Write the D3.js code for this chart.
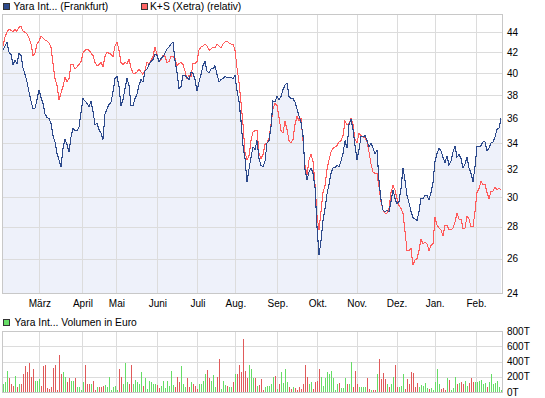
<!DOCTYPE html>
<html><head><meta charset="utf-8">
<script src="https://cdn.jsdelivr.net/npm/d3@7"></script>
<style>body{margin:0;background:#fff} svg{display:block}</style>
</head><body>
<svg id="c" width="545" height="398"></svg>
<script>
// ---- data ----
const yaraPrice = [
42.2,42.6,43.0,42.0,41.8,40.8,41.2,40.9,41.9,41.7,
40.5,39.9,39.2,38.3,37.5,36.8,36.9,37.6,38.5,37.8,
37.3,36.4,36.1,36.0,35.6,34.6,34.1,33.2,32.7,32.2,
33.6,34.3,33.9,33.3,34.5,35.2,35.0,35.0,35.3,36.5,
37.7,37.5,37.3,37.0,37.5,36.6,35.5,35.6,35.1,34.8,
34.3,36.4,36.8,37.2,37.4,38.3,39.5,39.7,38.8,37.1,
37.6,38.6,39.5,38.9,37.1,37.1,37.7,38.1,38.9,39.4,
39.2,40.2,40.4,40.8,41.1,41.3,41.8,41.7,41.1,41.4,
41.6,41.9,42.3,42.5,42.8,43.0,41.2,40.1,38.6,38.8,
39.8,39.8,39.6,39.4,40.1,40.0,39.4,38.4,39.2,39.9,
40.7,41.1,40.2,40.0,40.4,40.4,40.7,39.9,39.2,39.4,
39.5,39.7,39.6,39.6,39.6,39.5,39.8,38.4,37.5,35.8,
33.8,32.8,31.1,32.0,32.9,33.7,33.5,34.2,32.8,32.3,
32.2,32.6,34.0,34.2,35.3,37.5,37.4,37.9,37.6,37.9,
38.5,38.9,39.1,37.9,37.7,37.7,37.4,36.8,36.2,35.7,
34.6,32.0,31.2,31.8,32.1,31.7,30.7,28.0,26.2,27.1,
28.4,29.2,30.2,30.9,31.7,32.1,32.1,32.3,32.2,32.6,
33.2,34.2,33.6,35.5,35.9,35.1,33.8,32.7,33.5,34.5,
34.5,34.6,34.2,33.7,34.0,33.6,33.2,33.4,31.2,29.8,
29.1,29.0,29.1,29.0,29.7,30.5,29.9,29.5,29.7,30.6,
32.1,31.2,30.1,29.6,29.0,28.6,28.5,28.4,29.0,29.9,
29.9,30.1,30.1,29.8,30.3,31.0,32.6,33.2,33.6,33.4,
32.9,32.5,33.0,32.3,32.6,33.3,33.8,32.9,33.1,32.8,
32.1,32.4,32.9,32.1,31.7,31.1,32.2,33.7,33.7,33.8,
34.1,34.1,33.4,33.6,34.0,34.1,34.5,35.1,35.2,36.0
];
const ksRelative = [
42.6,43.5,44.0,44.3,44.2,44.0,44.3,44.1,44.5,44.6,
44.1,44.0,43.8,43.4,42.8,41.7,41.9,42.8,43.1,43.6,
43.4,43.2,43.1,42.9,42.5,40.9,39.5,38.9,37.6,38.2,
38.8,39.6,39.2,39.5,40.8,40.8,40.4,40.6,40.8,41.1,
41.9,42.2,42.3,42.2,41.9,41.7,41.0,40.7,40.8,41.0,
40.6,41.6,42.0,41.9,41.8,41.6,42.6,43.0,42.2,41.0,
40.8,41.0,40.9,41.3,40.5,40.0,40.0,40.1,40.4,40.1,
39.9,40.3,41.0,40.9,41.2,41.6,42.5,41.8,41.1,41.3,
41.7,41.6,41.0,41.1,41.6,41.6,41.4,40.7,40.9,41.0,
40.8,40.2,39.5,39.8,39.7,40.9,40.9,41.1,42.2,42.5,
42.6,42.8,42.6,42.2,42.3,42.5,42.4,42.8,42.6,42.4,
42.8,43.0,43.1,42.9,42.8,42.8,42.2,40.5,39.2,37.4,
35.5,33.3,32.7,33.0,34.2,34.9,35.0,35.0,33.2,32.8,
33.1,33.9,34.0,34.4,35.5,36.8,37.3,37.1,36.1,35.0,
34.8,35.8,35.1,34.2,34.0,34.3,35.5,36.2,35.8,36.0,
34.2,32.3,31.6,32.7,33.1,32.6,30.9,28.7,27.8,29.0,
30.3,30.8,32.0,32.7,33.3,33.6,33.7,33.8,34.1,34.2,
34.6,35.8,35.5,35.6,36.0,35.5,34.3,34.0,34.8,34.6,
34.5,34.4,34.1,33.3,32.4,31.8,31.7,31.7,30.7,29.7,
29.1,28.9,28.9,29.2,30.3,30.8,30.5,29.9,29.4,29.2,
28.9,27.7,26.5,26.5,26.6,25.6,25.9,26.0,26.5,27.2,
26.9,27.0,26.9,26.5,26.8,26.9,28.6,28.1,27.9,27.8,
27.4,28.1,28.1,27.8,27.8,27.9,28.3,28.9,28.5,28.5,
27.9,27.9,28.7,28.5,28.0,28.0,29.0,30.3,30.6,31.1,
30.9,30.9,30.3,29.9,30.4,30.4,30.7,30.5,30.6,30.5
];
// volume in thousand euro
const yaraVolume = [
100,130,270,190,100,80,210,60,100,
100,230,340,260,380,200,300,150,140,170,
80,340,350,50,40,70,310,350,30,490,
230,260,200,130,180,140,150,190,60,60,
30,130,350,110,100,100,140,20,60,70,
70,80,90,60,200,30,70,80,30,300,
200,110,380,130,110,350,100,160,130,110,
260,80,190,40,140,130,110,110,90,50,
80,140,50,150,80,270,90,60,200,130,
340,110,60,190,60,130,110,80,40,110,
110,140,230,290,180,140,220,70,200,
430,40,150,90,80,70,60,130,230,240,
360,260,700,280,190,350,300,190,190,80,
90,170,30,60,80,80,100,200,210,40,
100,260,120,300,130,70,40,60,50,30,
60,40,100,350,200,100,130,40,130,150,
300,200,80,180,260,230,270,190,20,100,
120,50,50,190,100,100,390,60,270,110,
60,60,60,70,180,40,30,20,20,230,
430,170,250,170,100,70,100,200,350,70,
60,80,240,40,170,110,260,250,60,120,
60,90,80,120,50,40,50,30,130,300,
110,40,50,30,190,160,30,50,200,100,
120,130,110,140,80,120,180,130,130,130,
140,160,110,120,70,130,230,100,120,150,
60,30
];
const monthLabels = ["März","April","Mai","Juni","Juli","Aug.","Sep.","Okt.","Nov.","Dez.","Jan.","Feb."];
const monthStarts = [18.2,39.7,56.7,77.2,97.2,116.2,137.2,157.2,176.8,196.8,215.8,236.5];
const priceTicks = [24,26,28,30,32,34,36,38,40,42,44];
const volumeTicks = [0,200,400,600,800];
const volumeTickLabels = ["0T","200T","400T","600T","800T"];
const legendMain = ["Yara Int... (Frankfurt)", "K+S (Xetra) (relativ)"];
const legendVolume = "Yara Int... Volumen in Euro";

// ---- layout ----
const P = {left:3, right:503, top:14, bottom:293};
const V = {top:331, bottom:392};
const BLUE = "#2d4a8c", RED = "#ff5b5b", GREEN = "#66dd66", VRED = "#e05a5a";
const GRID = "#dcdcdc", BORDER = "#c8c8c8", AREA = "#eef1fa";
const FONT = "'Liberation Sans', Arial, sans-serif";

const svg = d3.select("#c");
const x = d3.scaleLinear().domain([0, yaraPrice.length - 1]).range([P.left, P.right - 2]);
const y = d3.scaleLog().domain([24, 45.9]).range([P.bottom, P.top]);
const yv = d3.scaleLinear().domain([0, 800]).range([V.bottom, V.top]);

// area under Yara
svg.append("path")
  .datum(yaraPrice)
  .attr("fill", AREA)
  .attr("d", d3.area().x((d,i)=>x(i)).y0(P.bottom).y1(d=>y(d)));

// grid main
const gMain = svg.append("g").attr("shape-rendering","crispEdges");
gMain.selectAll("line.h").data(priceTicks.slice(1)).join("line")
  .attr("x1", P.left).attr("x2", P.right)
  .attr("y1", d=>Math.round(y(d))+0.5).attr("y2", d=>Math.round(y(d))+0.5)
  .attr("stroke", GRID);
gMain.selectAll("line.v").data(monthStarts).join("line")
  .attr("x1", d=>Math.round(x(d))+0.5).attr("x2", d=>Math.round(x(d))+0.5)
  .attr("y1", P.top).attr("y2", P.bottom)
  .attr("stroke", GRID);
gMain.append("rect").attr("x", P.left-0.5).attr("y", P.top+0.5)
  .attr("width", P.right-P.left).attr("height", P.bottom-P.top)
  .attr("fill","none").attr("stroke", BORDER);

// lines
const line = d3.line().x((d,i)=>x(i)).y(d=>y(d));
svg.append("path").datum(ksRelative).attr("d", line)
  .attr("fill","none").attr("stroke", RED).attr("stroke-width", 1.1)
  .attr("shape-rendering","crispEdges");
svg.append("path").datum(yaraPrice).attr("d", line)
  .attr("fill","none").attr("stroke", BLUE).attr("stroke-width", 1.1)
  .attr("shape-rendering","crispEdges");

// y axis (right)
const ay = svg.append("g").attr("transform", `translate(${P.right},0)`)
  .call(d3.axisRight(y).tickValues(priceTicks).tickFormat(d3.format("d")).tickSize(0).tickPadding(4));
ay.select(".domain").remove();
ay.selectAll("text").attr("font-family", FONT).attr("font-size", 10).attr("fill","#000");

// x axis
const ax = svg.append("g").attr("transform", `translate(0,${P.bottom})`)
  .call(d3.axisBottom(x).tickValues(monthStarts).tickFormat((d,i)=>monthLabels[i]).tickSize(0).tickPadding(7));
ax.select(".domain").remove();
ax.selectAll("text").attr("font-family", FONT).attr("font-size", 10).attr("fill","#000");

// legend main
const lg = svg.append("g").attr("font-family", FONT).attr("font-size", 10.3);
[[3, BLUE, 13.5], [141, "#ff6666", 150]].forEach((c, k) => {
  lg.append("rect").attr("x", c[0]+0.5).attr("y", 3.5).attr("width", 6).attr("height", 6)
    .attr("fill", c[1]).attr("stroke", "#333").attr("shape-rendering","crispEdges");
  lg.append("text").attr("x", c[2]).attr("y", 10).text(legendMain[k]);
});

// volume panel
const gVol = svg.append("g").attr("shape-rendering","crispEdges");
gVol.selectAll("line.h").data(volumeTicks.slice(1, -1)).join("line")
  .attr("x1", P.left).attr("x2", P.right)
  .attr("y1", d=>Math.round(yv(d))+0.5).attr("y2", d=>Math.round(yv(d))+0.5)
  .attr("stroke", GRID);
gVol.selectAll("line.v").data(monthStarts).join("line")
  .attr("x1", d=>Math.round(x(d))+0.5).attr("x2", d=>Math.round(x(d))+0.5)
  .attr("y1", V.top).attr("y2", V.bottom)
  .attr("stroke", GRID);
gVol.selectAll("rect.bar").data(yaraVolume).join("rect")
  .attr("x", (d,i)=>Math.round(x(i)))
  .attr("width", 1)
  .attr("y", d=>yv(d))
  .attr("height", d=>yv(0)-yv(d))
  .attr("fill", (d,i)=> (i === 0 || yaraPrice[i] >= yaraPrice[i-1]) ? GREEN : VRED);
gVol.append("rect").attr("x", P.left-0.5).attr("y", V.top+0.5)
  .attr("width", P.right-P.left).attr("height", V.bottom-V.top)
  .attr("fill","none").attr("stroke", BORDER);

const av = svg.append("g").attr("transform", `translate(${P.right},0)`)
  .call(d3.axisRight(yv).tickValues(volumeTicks).tickFormat((d,i)=>volumeTickLabels[i]).tickSize(0).tickPadding(4));
av.select(".domain").remove();
av.selectAll("text").attr("font-family", FONT).attr("font-size", 10).attr("fill","#000");

// volume legend
svg.append("rect").attr("x", 3.5).attr("y", 319.5).attr("width", 6).attr("height", 6)
  .attr("fill", GREEN).attr("stroke", "#333").attr("shape-rendering","crispEdges");
svg.append("text").attr("x", 14.5).attr("y", 326).attr("font-family", FONT).attr("font-size", 10.3)
  .text(legendVolume);
</script>
</body></html>
